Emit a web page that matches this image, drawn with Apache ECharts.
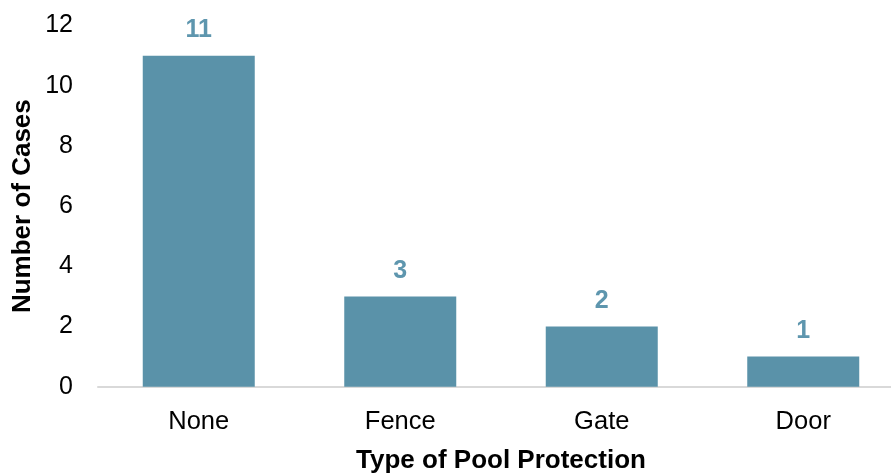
<!DOCTYPE html>
<html>
<head>
<meta charset="utf-8">
<script src="https://cdn.jsdelivr.net/npm/echarts@6/dist/echarts.min.js"></script>
<style>
  html, body { margin: 0; padding: 0; background: #fff; }
  #wrap { width: 891px; height: 474px; overflow: hidden; position: relative; }
  #chart { width: 904px; height: 474px; }
</style>
</head>
<body>
<div id="wrap"><div id="chart"></div></div>
<script>
const categories = ['None', 'Fence', 'Gate', 'Door'];
const cases = [11, 3, 2, 1];
const yTicks = [0, 12, 2]; // min, max, interval

const barColor = '#5A92A9';
const font = 'Liberation Sans, Arial, sans-serif';

// the plot runs past the right edge of the 891px window, so the canvas is a bit wider and clipped
const myChart = echarts.init(document.getElementById('chart'));
myChart.setOption({
    animation: false,
    textStyle: {fontFamily: font, color: '#000'},
    grid: {left: 98, right: 0, top: 25.6, bottom: 87.3, containLabel: false, outerBoundsMode: 'none'},
    xAxis: {
        type: 'category',
        data: categories,
        name: 'Type of Pool Protection',
        nameLocation: 'middle',
        nameGap: 61,
        nameTextStyle: {fontSize: 26, fontWeight: 'bold', color: '#000', fontFamily: font},
        axisTick: {show: false},
        axisLine: {show: true, lineStyle: {color: '#D9D9D9', width: 2}},
        axisLabel: {fontSize: 25.5, color: '#000', margin: 22, fontFamily: font}
    },
    yAxis: {
        type: 'value',
        min: yTicks[0],
        max: yTicks[1],
        interval: yTicks[2],
        name: 'Number of Cases',
        nameLocation: 'middle',
        nameGap: 62,
        nameMoveOverlap: false,
        nameRotate: 90,
        nameTextStyle: {fontSize: 26, fontWeight: 'bold', color: '#000', fontFamily: font},
        splitLine: {show: false},
        axisLine: {show: false},
        axisTick: {show: false},
        axisLabel: {fontSize: 25, color: '#000', margin: 25, fontFamily: font}
    },
    series: [{
        type: 'bar',
        data: cases,
        barWidth: 112,
        itemStyle: {color: barColor},
        label: {
            show: true,
            position: 'top',
            distance: 13,
            fontSize: 25,
            fontWeight: 'bold',
            color: '#5E96AE',
            fontFamily: font
        }
    }]
});
</script>
</body>
</html>
